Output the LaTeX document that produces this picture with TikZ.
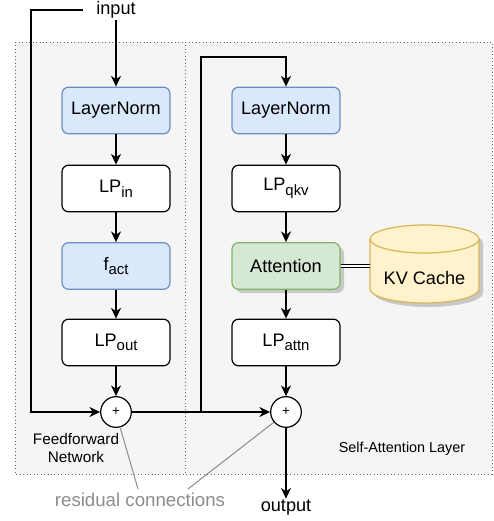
\documentclass[tikz,border=0pt]{standalone}
\usepackage{fontspec}
\setmainfont{Liberation Sans}
\usetikzlibrary{arrows.meta}
\definecolor{contfill}{HTML}{F5F5F5}
\definecolor{contdraw}{HTML}{666666}
\definecolor{bluefill}{HTML}{DAE8FC}
\definecolor{bluedraw}{HTML}{6C8EBF}
\definecolor{greenfill}{HTML}{D5E8D4}
\definecolor{greendraw}{HTML}{82B366}
\definecolor{yellowfill}{HTML}{FFF2CC}
\definecolor{yellowdraw}{HTML}{D6B656}
\definecolor{resgray}{HTML}{8C8C8C}
\newcommand\lpsub[1]{\raisebox{-3.4pt}{\fontsize{11.2}{12}\selectfont #1}}
\begin{document}
\begin{tikzpicture}[x=0.75pt,y=-0.75pt,
  mainfont/.style={font=\fontsize{13.6}{16}\selectfont},
  blockbox/.style={draw=black, fill=white, rounded corners=5pt, line width=0.9pt,
    minimum width=81pt, minimum height=35pt, inner sep=0pt, mainfont},
  bluebox/.style={blockbox, draw=bluedraw, fill=bluefill},
  greenbox/.style={blockbox, draw=greendraw, fill=greenfill},
  plusnode/.style={circle, draw=black, fill=white, line width=0.9pt, minimum size=23pt, inner sep=0pt, font=\fontsize{10}{10}\selectfont},
  arr/.style={line width=0.9pt, -{Stealth[length=8pt,width=7.5pt,inset=2.5pt]}},
  ln/.style={line width=0.9pt},
  container/.style={draw=contdraw, fill=contfill, dotted, line width=0.6pt},
  resline/.style={draw=resgray, line width=0.75pt}
]
\useasboundingbox (0,0) rectangle (493,521);
% containers
\path[container] (15,42) rectangle (185,474);
\path[container] (185,42) rectangle (492,474);
% left column
\node[bluebox] (ln1) at (116,110.5) {LayerNorm};
\node[blockbox] (lpin) at (116,188.5) {LP\lpsub{in}};
\node[bluebox] (fact) at (116,266) {f\lpsub{act}};
\node[blockbox] (lpout) at (116,342.5) {LP\lpsub{out}};
\node[plusnode] (p1) at (116,412) {+};
% right column
\node[bluebox] (ln2) at (286,110.5) {LayerNorm};
\node[blockbox] (lpqkv) at (286,188.5) {LP\lpsub{qkv}};
\fill[black, opacity=0.18, rounded corners=5pt] (236,247) rectangle (344,293);
\node[greenbox] (att) at (286,266) {Attention};
\node[blockbox] (lpattn) at (286,342.5) {LP\lpsub{attn}};
\node[plusnode] (p2) at (286,412) {+};
% KV cache cylinder
\fill[black, opacity=0.18] (374,243) -- (374,293) arc[start angle=180, end angle=0, x radius=54.5, y radius=14] -- (483,243) arc[start angle=0, end angle=-180, x radius=54.5, y radius=14] -- cycle;
\filldraw[draw=yellowdraw, fill=yellowfill, line width=0.9pt] (370,239) -- (370,289) arc[start angle=180, end angle=0, x radius=54.5, y radius=14] -- (479,239) arc[start angle=0, end angle=-180, x radius=54.5, y radius=14] -- cycle;
\draw[draw=yellowdraw, line width=0.9pt] (370,239) arc[start angle=180, end angle=0, x radius=54.5, y radius=14];
\node[mainfont, inner sep=0pt] (kv) at (424.5,278) {KV Cache};
\coordinate (kvleft) at (370,266);
\draw[line width=0.7pt, double=white, double distance=2pt] (att.east) -- (kvleft);
% texts
\node[mainfont, inner sep=1pt] (in) at (116,10) {input};
\node[mainfont, inner sep=1pt] (out) at (286,508) {output};
\node[font=\fontsize{11.5}{14}\selectfont, align=center, inner sep=0pt] (ffn) at (76,448) {Feedforward\\Network};
\node[font=\fontsize{10.8}{13}\selectfont, inner sep=0pt] (sal) at (402,449) {Self-Attention Layer};
\node[font=\fontsize{14}{16}\selectfont, text=resgray, inner sep=0pt] (res) at (140,500) {residual connections};
% flows
\draw[arr] (in.south) -- (ln1.north);
\coordinate (inl) at (83,10);
\coordinate (lc) at (31,10);
\draw[arr] (inl) -- (lc) |- (p1.west);
\draw[arr] (ln1) -- (lpin);
\draw[arr] (lpin) -- (fact);
\draw[arr] (fact) -- (lpout);
\draw[arr] (lpout) -- (p1);
\draw[arr] (p1) -- (p2);
\coordinate (br) at (201,412);
\coordinate (tp) at (286,57);
\draw[arr] (br) |- (tp) -- (ln2.north);
\draw[arr] (ln2) -- (lpqkv);
\draw[arr] (lpqkv) -- (att);
\draw[arr] (att) -- (lpattn);
\draw[arr] (lpattn) -- (p2);
\draw[arr] (p2) -- (out.north);
% residual pointers
\coordinate (r1) at (138,489);
\coordinate (r2) at (188,489);
\draw[resline] (r1) -- (p1.-75);
\draw[resline] (r2) -- (p2.-140);
\end{tikzpicture}
\end{document}
